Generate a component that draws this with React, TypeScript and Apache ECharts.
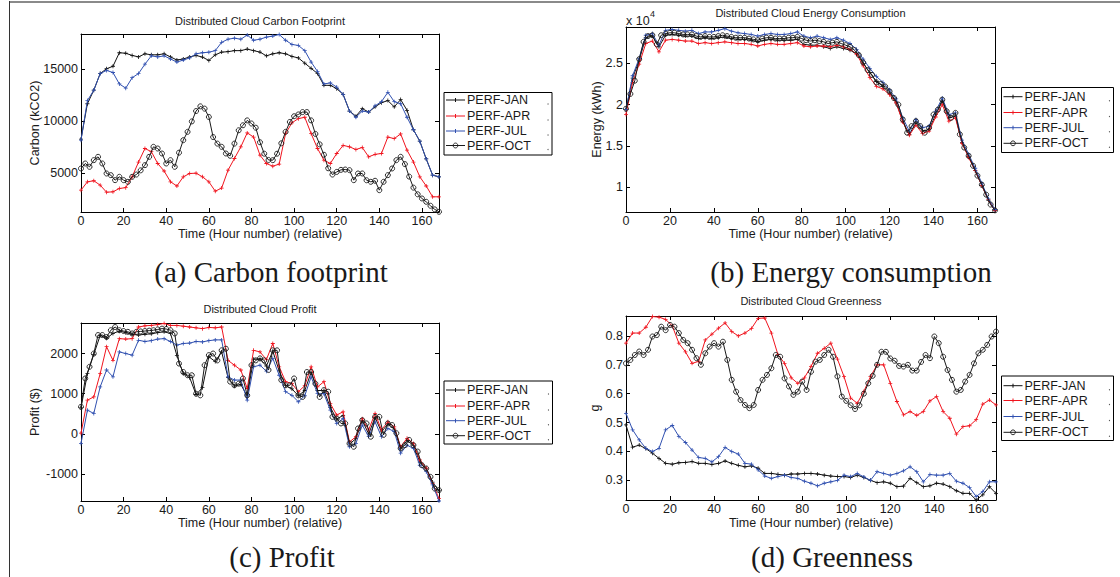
import React, { useEffect, useRef } from "react";
import * as echarts from "echarts";

const HOURS = [0, 3, 6, 9, 12, 15, 18, 21, 24, 27, 30, 33, 36, 39, 42, 45, 48, 51, 54, 57, 60, 63, 66, 69, 72, 75, 78, 81, 84, 87, 90, 93, 96, 99, 102, 105, 108, 111, 114, 117, 120, 123, 126, 129, 132, 135, 138, 141, 144, 147, 150, 153, 156, 159, 162, 165, 168];
const HOURS_FINE = [0, 2, 4, 6, 8, 10, 12, 14, 16, 18, 20, 22, 24, 26, 28, 30, 32, 34, 36, 38, 40, 42, 44, 46, 48, 50, 52, 54, 56, 58, 60, 62, 64, 66, 68, 70, 72, 74, 76, 78, 80, 82, 84, 86, 88, 90, 92, 94, 96, 98, 100, 102, 104, 106, 108, 110, 112, 114, 116, 118, 120, 122, 124, 126, 128, 130, 132, 134, 136, 138, 140, 142, 144, 146, 148, 150, 152, 154, 156, 158, 160, 162, 164, 166, 168];
const X_TICKS = [0, 20, 40, 60, 80, 100, 120, 140, 160];
const SERIES_NAMES = ["PERF-JAN", "PERF-APR", "PERF-JUL", "PERF-OCT"];

// (a) Carbon footprint (kCO2)
const CARBON_JAN = [8300, 11700, 13000, 14600, 15060, 15300, 16600, 16550, 16340, 16200,
  16500, 16400, 16400, 16500, 16200, 15900, 16000, 16200, 16340, 16180,
  15860, 16400, 16660, 16700, 16800, 16800, 16950, 16800, 16660, 16300,
  16500, 16600, 16500, 16250, 16100, 15600, 15100, 14600, 13470, 13470,
  13150, 12600, 11000, 10500, 11230, 10900, 11400, 11800, 12000, 11400,
  12100, 11070, 9200, 8100, 6400, 4840, 4680];
const CARBON_APR = [3400, 4200, 4300, 3880, 3200, 3240, 3560, 3640, 4680, 6100,
  7400, 7100, 5960, 5240, 4200, 3800, 4680, 5000, 5030, 4680,
  4200, 3300, 3600, 5320, 6440, 7560, 8900, 8500, 6760, 5960,
  5700, 5900, 8830, 9870, 10270, 10400, 8830, 7400, 6280, 5960,
  6920, 7700, 7560, 7300, 7500, 6600, 6840, 6920, 8500, 8350,
  8800, 7240, 6100, 4680, 3800, 2760, 2760];
const CARBON_JUL = [8200, 12000, 13000, 14600, 14900, 14700, 13600, 13200, 14200, 14600,
  15500, 16300, 16200, 16300, 16000, 15700, 15900, 16100, 16500, 16600,
  16650, 16800, 17600, 17900, 18000, 17900, 18300, 17800, 17900, 18100,
  18200, 18350, 17800, 17400, 17300, 16800, 15700, 14800, 13600, 13700,
  13300, 12600, 11000, 10400, 11000, 10900, 11500, 11900, 12800, 11900,
  11700, 10400, 9200, 8100, 6400, 4840, 4680];
// OCT series are sampled every 2 hours (HOURS_FINE)
const CARBON_OCT = [5480, 5960, 5640, 6280, 6600, 5960, 5000, 4840, 4360, 4680,
  4360, 4200, 4680, 4900, 5300, 5800, 6600, 7560, 7400, 6920,
  5960, 6280, 5640, 7000, 8200, 9000, 10000, 11000, 11450, 11230,
  10430, 8500, 7870, 7560, 6920, 6700, 7870, 9150, 9630, 10100,
  9800, 9400, 8000, 6900, 6300, 6280, 6900, 7900, 9000, 9950,
  10500, 10670, 10900, 10900, 10100, 8800, 7800, 6800, 5500, 4900,
  5150, 5350, 5380, 5320, 4360, 5000, 5000, 4350, 4200, 4300,
  3400, 4200, 4840, 5480, 6280, 6600, 5900, 4700, 3640, 3000,
  2600, 2280, 1900, 1550, 1320];
const CARBON_TICKS = [5000, 10000, 15000];

// (b) Energy consumption (kWh)
const ENERGY_JAN = [19400, 23200, 25400, 28100, 28300, 27000, 28400, 28500, 28400, 28300,
  28300, 28000, 28100, 28000, 28100, 28200, 28000, 27900, 27900, 27800,
  27600, 27800, 27900, 27800, 27800, 27800, 27900, 27300, 27200, 27200,
  27000, 26800, 27000, 26800, 26600, 26200, 25000, 23900, 22800, 22200,
  21400, 20300, 18000, 16400, 17800, 16800, 17000, 18800, 20400, 18400,
  18600, 15400, 13700, 12000, 10200, 8400, 7200];
const ENERGY_APR = [18800, 22700, 24900, 27400, 27700, 26400, 27800, 27900, 27800, 27700,
  27700, 27400, 27500, 27400, 27500, 27600, 27500, 27400, 27400, 27300,
  27100, 27300, 27400, 27300, 27300, 27400, 27500, 27100, 27000, 27100,
  27100, 27000, 27200, 27000, 26700, 26100, 24700, 23300, 22200, 21900,
  21200, 20200, 17900, 16300, 17500, 16500, 16800, 18500, 20000, 18000,
  18400, 15300, 13600, 12000, 10200, 8500, 7200];
const ENERGY_JUL = [19400, 23500, 25600, 28400, 28600, 27200, 29000, 29100, 29000, 28900,
  29000, 28600, 28800, 28800, 29000, 29200, 28900, 28700, 28600, 28500,
  28300, 28500, 28600, 28500, 28500, 28600, 28800, 28300, 28100, 28300,
  28100, 27900, 28100, 27800, 27400, 26700, 25500, 24400, 23400, 22700,
  21800, 20700, 18400, 16800, 18200, 17200, 17400, 19200, 20800, 18800,
  19000, 15700, 14000, 12300, 10500, 8600, 7300];
const ENERGY_OCT = [19500, 21300, 22900, 25500, 27600, 28300, 28400, 27300, 28400, 28600,
  28700, 28700, 28600, 28500, 28500, 28500, 28300, 28200, 28300, 28200,
  28200, 28300, 28400, 28300, 28200, 28100, 28100, 28100, 28000, 27900,
  27800, 28000, 28100, 28100, 28000, 28000, 28000, 28100, 28100, 28200,
  28000, 27800, 27700, 27800, 27700, 27600, 27400, 27500, 27600, 27400,
  27200, 27000, 26600, 26000, 25100, 24200, 23600, 22700, 22500, 22200,
  21600, 20800, 20000, 18200, 16600, 17400, 18000, 17400, 16600, 17200,
  18800, 19400, 20600, 19200, 18400, 19000, 16400, 14800, 13800, 12600,
  11400, 10300, 9100, 7900, 7200];
const ENERGY_TICKS = [10000, 15000, 20000, 25000];

// (c) Profit ($)
const PROFIT_JAN = [650, 1500, 1980, 2450, 2380, 2500, 2560, 2520, 2480, 2460,
  2480, 2490, 2520, 2540, 2500, 1950, 1500, 1400, 980, 1150,
  1920, 1800, 2040, 1400, 1190, 1230, 940, 1860, 1860, 1690,
  2060, 1570, 1200, 1120, 950, 1080, 1530, 1080, 1080, 660,
  370, 460, -250, -120, 330, 0, 410, 50, 250, 120,
  -370, -160, -290, -700, -870, -1200, -1420];
const PROFIT_APR = [17, 840, 920, 1500, 2170, 1830, 2370, 2360, 2370, 2660,
  2690, 2700, 2720, 2750, 2700, 2700, 2680, 2660, 2640, 2620,
  2650, 2640, 2660, 1830, 1710, 1590, 1130, 2080, 2040, 1850,
  2250, 1670, 1300, 1250, 1050, 1200, 1670, 1170, 1300, 755,
  470, 550, -200, -70, 380, 100, 510, 100, 300, 175,
  -320, -110, -240, -650, -850, -1230, -1610];
const PROFIT_JUL = [-238, 590, 510, 1170, 1590, 1420, 2040, 2000, 1960, 2330,
  2300, 2320, 2360, 2370, 2300, 2210, 2250, 2260, 2300, 2290,
  2320, 2340, 2340, 1420, 1340, 1340, 840, 1670, 1710, 1560,
  1880, 1460, 1050, 960, 800, 950, 1420, 1000, 1000, 590,
  260, 380, -320, -240, 220, -70, 300, -70, 135, 60,
  -480, -280, -360, -780, -940, -1270, -1670];
const PROFIT_OCT = [674, 1380, 1670, 2000, 2460, 2460, 2410, 2580, 2660, 2580,
  2560, 2540, 2500, 2540, 2550, 2560, 2570, 2580, 2600, 2620,
  2610, 2580, 2500, 1750, 1540, 1460, 1460, 1000, 960, 1710,
  1960, 2000, 1830, 2080, 2120, 1300, 1210, 1250, 1380, 960,
  1710, 1830, 1880, 1830, 1590, 2080, 2080, 1340, 1210, 1210,
  1380, 960, 920, 1540, 1540, 1250, 920, 1090, 1050, 425,
  380, 260, 260, -240, -320, 135, 340, 260, -70, 425,
  425, -25, 260, 220, 17, -360, -280, -150, -280, -440,
  -780, -860, -1070, -1360, -1400];
const PROFIT_TICKS = [-1000, 0, 1000, 2000];

// (d) Greenness (g)
const GREEN_JAN = [0.492, 0.415, 0.422, 0.41, 0.394, 0.376, 0.359, 0.356, 0.361, 0.362,
  0.365, 0.359, 0.359, 0.355, 0.359, 0.367, 0.359, 0.352, 0.347, 0.35,
  0.342, 0.324, 0.324, 0.321, 0.318, 0.322, 0.322, 0.324, 0.324, 0.322,
  0.318, 0.315, 0.313, 0.313, 0.31, 0.318, 0.31, 0.3, 0.292, 0.295,
  0.29, 0.278, 0.28, 0.307, 0.292, 0.278, 0.281, 0.29, 0.287, 0.278,
  0.264, 0.255, 0.255, 0.232, 0.25, 0.278, 0.255];
const GREEN_APR = [0.775, 0.81, 0.81, 0.83, 0.867, 0.865, 0.857, 0.835, 0.775, 0.745,
  0.705, 0.712, 0.786, 0.806, 0.827, 0.845, 0.815, 0.8, 0.81, 0.826,
  0.861, 0.862, 0.81, 0.735, 0.705, 0.655, 0.636, 0.655, 0.694, 0.74,
  0.757, 0.775, 0.72, 0.659, 0.585, 0.567, 0.608, 0.659, 0.7, 0.7,
  0.636, 0.573, 0.527, 0.538, 0.525, 0.538, 0.575, 0.59, 0.538, 0.515,
  0.46, 0.486, 0.489, 0.51, 0.564, 0.578, 0.561];
const GREEN_JUL = [0.532, 0.475, 0.44, 0.411, 0.4, 0.411, 0.475, 0.49, 0.452, 0.431,
  0.405, 0.379, 0.376, 0.364, 0.382, 0.414, 0.4, 0.391, 0.359, 0.356,
  0.336, 0.315, 0.307, 0.313, 0.318, 0.31, 0.307, 0.297, 0.29, 0.281,
  0.29, 0.295, 0.3, 0.318, 0.313, 0.324, 0.312, 0.3, 0.33, 0.324,
  0.318, 0.324, 0.333, 0.347, 0.33, 0.295, 0.32, 0.318, 0.318, 0.324,
  0.297, 0.29, 0.275, 0.244, 0.261, 0.295, 0.295];
const GREEN_OCT = [0.705, 0.717, 0.734, 0.746, 0.734, 0.752, 0.798, 0.803, 0.832, 0.82,
  0.838, 0.832, 0.81, 0.786, 0.775, 0.752, 0.723, 0.7, 0.74, 0.763,
  0.775, 0.763, 0.78, 0.717, 0.648, 0.607, 0.578, 0.561, 0.55, 0.561,
  0.613, 0.648, 0.665, 0.688, 0.734, 0.728, 0.653, 0.625, 0.596, 0.607,
  0.642, 0.613, 0.676, 0.711, 0.717, 0.734, 0.752, 0.728, 0.66, 0.59,
  0.575, 0.56, 0.547, 0.56, 0.6, 0.636, 0.662, 0.7, 0.745, 0.745,
  0.722, 0.714, 0.696, 0.694, 0.7, 0.68, 0.68, 0.71, 0.734, 0.723,
  0.798, 0.775, 0.728, 0.682, 0.648, 0.607, 0.613, 0.642, 0.665, 0.705,
  0.74, 0.752, 0.769, 0.798, 0.815];
const GREEN_TICKS = [0.3, 0.4, 0.5, 0.6, 0.7, 0.8];

const COLORS = ["#111111", "#f0141e", "#3050b0", "#1a1a1a"];
const SANS = '"Liberation Sans", Arial, Helvetica, sans-serif';
const SERIF = '"Liberation Serif", "Times New Roman", serif';
const TXT = "#1a1a1a";
const PLUS = "path://M2,0H3V2H5V3H3V5H2V3H0V2H2Z";

type Panel = {
  grid: { left: number; top: number; width: number; height: number };
  min: number; max: number; ticks: number[]; fmt: (v: number) => string;
  data: number[][]; title: string; titleY: number; yName: string; yNameX: number;
  xNameY: number; legend: { x: number; y: number; w: number; h: number; rows: number[] };
  caption: string; capX: number; capY: number;
};

const PANELS: Panel[] = [
  {
    grid: { left: 81, top: 34, width: 358, height: 178 }, min: 1300, max: 18400,
    ticks: CARBON_TICKS, fmt: (v) => String(v),
    data: [CARBON_JAN, CARBON_APR, CARBON_JUL, CARBON_OCT],
    title: "Distributed Cloud Carbon Footprint", titleY: 20.5, yName: "Carbon (kCO2)", yNameX: 35,
    xNameY: 234, legend: { x: 444, y: 92.5, w: 108, h: 62.5, rows: [100, 116, 131, 145.5] },
    caption: "(a) Carbon footprint", capX: 271, capY: 272,
  },
  {
    grid: { left: 626, top: 27, width: 369, height: 185 }, min: 7000, max: 29400,
    ticks: ENERGY_TICKS, fmt: (v) => String(v / 10000),
    data: [ENERGY_JAN, ENERGY_APR, ENERGY_JUL, ENERGY_OCT],
    title: "Distributed Cloud Energy Consumption", titleY: 12.7, yName: "Energy (kWh)", yNameX: 597,
    xNameY: 234, legend: { x: 1001.5, y: 87.5, w: 112, h: 65, rows: [96.7, 112.5, 127.7, 143.3] },
    caption: "(b) Energy consumption", capX: 851, capY: 272,
  },
  {
    grid: { left: 81, top: 323, width: 358, height: 178 }, min: -1670, max: 2760,
    ticks: PROFIT_TICKS, fmt: (v) => String(v),
    data: [PROFIT_JAN, PROFIT_APR, PROFIT_JUL, PROFIT_OCT],
    title: "Distributed Cloud Profit", titleY: 309, yName: "Profit ($)", yNameX: 35,
    xNameY: 523, legend: { x: 444, y: 381, w: 108.5, h: 63, rows: [390, 406, 420.7, 435.7] },
    caption: "(c) Profit", capX: 282, capY: 557,
  },
  {
    grid: { left: 626, top: 316, width: 370, height: 184 }, min: 0.232, max: 0.869,
    ticks: GREEN_TICKS, fmt: (v) => String(v),
    data: [GREEN_JAN, GREEN_APR, GREEN_JUL, GREEN_OCT],
    title: "Distributed Cloud Greenness", titleY: 301, yName: "g", yNameX: 595,
    xNameY: 523, legend: { x: 1001.5, y: 376, w: 112, h: 64.5, rows: [385.7, 400.5, 416.5, 432.3] },
    caption: "(d) Greenness", capX: 832, capY: 557,
  },
];

function textEl(text: string, x: number, y: number, size: number, opts: any = {}) {
  return {
    type: "text", x, y, rotation: opts.rotation || 0, silent: true, z: 10,
    style: {
      text, fill: opts.fill || TXT, font: `${size}px ${opts.family || SANS}`,
      align: opts.align || "center", verticalAlign: "middle",
      textAlign: opts.align || "center", textVerticalAlign: "middle",
    },
  };
}

function buildOption() {
  const grids: any[] = [];
  const xAxes: any[] = [];
  const yAxes: any[] = [];
  const series: any[] = [];
  const graphic: any[] = [];

  graphic.push({ type: "line", silent: true, shape: { x1: 9, y1: 2, x2: 1120, y2: 2 }, style: { stroke: "#8a8a8a", lineWidth: 2 } });
  graphic.push({ type: "line", silent: true, shape: { x1: 9.5, y1: 1, x2: 9.5, y2: 577 }, style: { stroke: "#333", lineWidth: 1 } });

  PANELS.forEach((p, i) => {
    grids.push({ ...p.grid, show: false });
    const axisLine = { show: true, onZero: false, lineStyle: { color: "#000", width: 1 } };
    const tick = (vals: number[]) => ({ show: true, inside: true, length: 4, customValues: vals, lineStyle: { color: "#000", width: 1 } });
    const label = { fontSize: 12.5, fontFamily: SANS, color: TXT };
    xAxes.push({
      type: "value", gridIndex: i, min: 0, max: 168, position: "bottom",
      axisLine, axisTick: tick(X_TICKS), splitLine: { show: false },
      axisLabel: { ...label, margin: 2, customValues: X_TICKS, formatter: (v: number) => String(v) },
    });
    xAxes.push({
      type: "value", gridIndex: i, min: 0, max: 168, position: "top",
      axisLine, axisTick: tick(X_TICKS), splitLine: { show: false }, axisLabel: { show: false },
    });
    yAxes.push({
      type: "value", gridIndex: i, min: p.min, max: p.max, position: "left",
      axisLine, axisTick: tick(p.ticks), splitLine: { show: false },
      axisLabel: { ...label, margin: 3, customValues: p.ticks, formatter: p.fmt },
    });
    yAxes.push({
      type: "value", gridIndex: i, min: p.min, max: p.max, position: "right",
      axisLine, axisTick: tick(p.ticks), splitLine: { show: false }, axisLabel: { show: false },
    });

    p.data.forEach((vals, k) => {
      const isOct = k === 3;
      const hrs = isOct ? HOURS_FINE : HOURS;
      series.push({
        type: "line", name: SERIES_NAMES[k], xAxisIndex: i * 2, yAxisIndex: i * 2,
        data: hrs.map((h, j) => [h, vals[j]]),
        symbol: isOct ? "circle" : PLUS, symbolSize: isOct ? 5 : 4, showSymbol: true,
        lineStyle: { color: COLORS[k], width: 1 },
        itemStyle: isOct ? { color: "rgba(255,255,255,0)", borderColor: COLORS[k], borderWidth: 0.9 } : { color: COLORS[k] },
        silent: true, z: 2 + k,
      });
    });

    const cx = p.grid.left + p.grid.width / 2;
    graphic.push(textEl(p.title, cx, p.titleY, 11));
    graphic.push(textEl("Time (Hour number) (relative)", cx, p.xNameY, 12.5));
    graphic.push(textEl(p.yName, p.yNameX, p.grid.top + p.grid.height / 2, 12.5, { rotation: Math.PI / 2 }));
    graphic.push(textEl(p.caption, p.capX, p.capY, 29, { family: SERIF, fill: "#1a1a1a" }));

    const L = p.legend;
    graphic.push({ type: "rect", silent: true, z: 9, shape: { x: L.x, y: L.y, width: L.w, height: L.h }, style: { fill: "#fff", stroke: "#000", lineWidth: 1 } });
    L.rows.forEach((ry, k) => {
      const x1 = L.x + 2, x2 = L.x + 21, mx = (x1 + x2) / 2;
      graphic.push({ type: "line", silent: true, z: 10, shape: { x1, y1: ry, x2, y2: ry }, style: { stroke: COLORS[k], lineWidth: 1 } });
      if (k === 3) {
        graphic.push({ type: "circle", silent: true, z: 11, shape: { cx: mx, cy: ry, r: 2.4 }, style: { fill: "none", stroke: COLORS[k], lineWidth: 0.9 } });
      } else {
        graphic.push({ type: "line", silent: true, z: 11, shape: { x1: mx, y1: ry - 2, x2: mx, y2: ry + 2 }, style: { stroke: COLORS[k], lineWidth: 1 } });
      }
      graphic.push(textEl(SERIES_NAMES[k], L.x + 23, ry, 12.5, { align: "left" }));
      graphic.push({ type: "circle", silent: true, z: 11, shape: { cx: L.x + L.w - 4, cy: ry + 4, r: 0.6 }, style: { fill: "#555" } });
    });
  });

  graphic.push({ type: "text", x: 626, y: 20.7, silent: true, z: 10, style: { text: "x 10", fill: TXT, font: `12.5px ${SANS}`, align: "left", verticalAlign: "middle", textAlign: "left", textVerticalAlign: "middle" } });
  graphic.push({ type: "text", x: 650, y: 14, silent: true, z: 10, style: { text: "4", fill: TXT, font: `9px ${SANS}`, align: "left", verticalAlign: "middle", textAlign: "left", textVerticalAlign: "middle" } });

  return {
    animation: false,
    backgroundColor: "#fff",
    grid: grids,
    xAxis: xAxes,
    yAxis: yAxes,
    series,
    graphic,
  };
}

export default function App() {
  const ref = useRef<HTMLDivElement>(null);
  useEffect(() => {
    const chart = echarts.init(ref.current as HTMLDivElement, null, { renderer: "svg" });
    chart.setOption(buildOption() as any);
    return () => chart.dispose();
  }, []);
  return (
    <div
      ref={ref}
      style={{ position: "fixed", left: 0, top: 0, width: 1120, height: 577, background: "#fff" }}
    />
  );
}
